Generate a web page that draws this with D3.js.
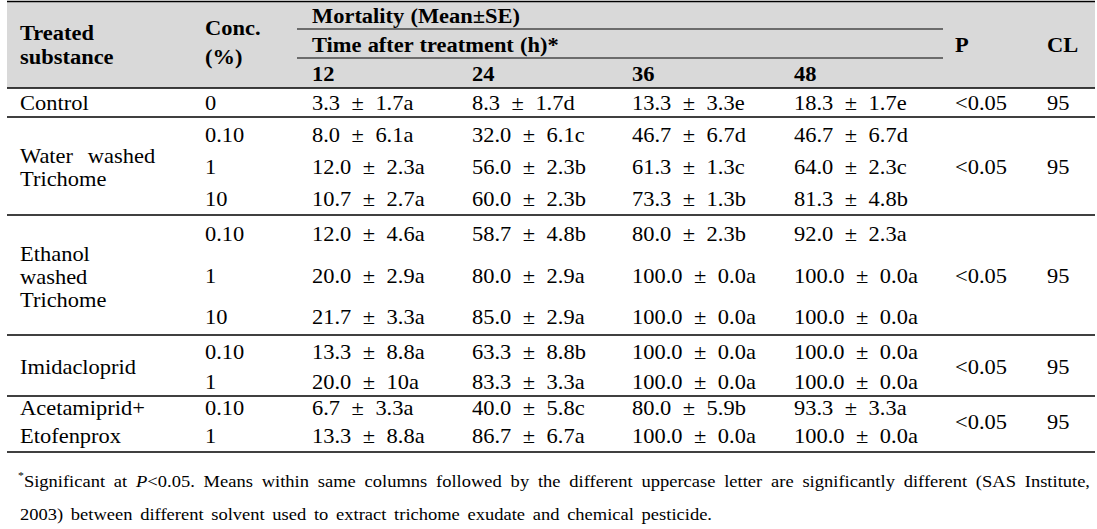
<!DOCTYPE html>
<html>
<head>
<meta charset="utf-8">
<script src="https://cdn.jsdelivr.net/npm/d3@7"></script>
<style>
  html, body { margin: 0; padding: 0; background: #fff; }
  svg { display: block; }
</style>
</head>
<body>
<svg id="chart" width="1097" height="529"></svg>
<script>
// ---------------- data ----------------
const groupLabels = [
  ["Control"],
  ["Water washed", "Trichome"],
  ["Ethanol", "washed", "Trichome"],
  ["Imidacloprid"],
  ["Acetamiprid+", "Etofenprox"]
];
const concentrations = ["0", "0.10", "1", "10", "0.10", "1", "10", "0.10", "1", "0.10", "1"];
const timeLabels = ["12", "24", "36", "48"];

const mean12 = ["3.3", "8.0", "12.0", "10.7", "12.0", "20.0", "21.7", "13.3", "20.0", "6.7", "13.3"];
const se12   = ["1.7", "6.1", "2.3", "2.7", "4.6", "2.9", "3.3", "8.8", "10", "3.3", "8.8"];
const let12  = ["a", "a", "a", "a", "a", "a", "a", "a", "a", "a", "a"];

const mean24 = ["8.3", "32.0", "56.0", "60.0", "58.7", "80.0", "85.0", "63.3", "83.3", "40.0", "86.7"];
const se24   = ["1.7", "6.1", "2.3", "2.3", "4.8", "2.9", "2.9", "8.8", "3.3", "5.8", "6.7"];
const let24  = ["d", "c", "b", "b", "b", "a", "a", "b", "a", "c", "a"];

const mean36 = ["13.3", "46.7", "61.3", "73.3", "80.0", "100.0", "100.0", "100.0", "100.0", "80.0", "100.0"];
const se36   = ["3.3", "6.7", "1.3", "1.3", "2.3", "0.0", "0.0", "0.0", "0.0", "5.9", "0.0"];
const let36  = ["e", "d", "c", "b", "b", "a", "a", "a", "a", "b", "a"];

const mean48 = ["18.3", "46.7", "64.0", "81.3", "92.0", "100.0", "100.0", "100.0", "100.0", "93.3", "100.0"];
const se48   = ["1.7", "6.7", "2.3", "4.8", "2.3", "0.0", "0.0", "0.0", "0.0", "3.3", "0.0"];
const let48  = ["e", "d", "c", "b", "a", "a", "a", "a", "a", "a", "a"];

const pValues = ["<0.05", "<0.05", "<0.05", "<0.05", "<0.05"];
const clValues = ["95", "95", "95", "95", "95"];

const footnote1 = ["Significant at ", "P", "<0.05. Means within same columns followed by the different uppercase letter are significantly different (SAS Institute,"];
const footnote2 = "2003) between different solvent used to extract trichome exudate and chemical pesticide.";

// ---------------- layout ----------------
const svg = d3.select("#chart");
const FONT = "'Liberation Serif', Tinos, 'Times New Roman', serif";
const FS = 21, SX = 1.07;
const colKeys = ["sub", "conc", "t12", "t24", "t36", "t48", "p", "cl"];
const x = d3.scaleOrdinal().domain(colKeys).range([20, 205, 312, 472, 632, 794, 955, 1047]);
const y = d3.scaleOrdinal().domain(d3.range(11)).range([103, 135, 167, 199, 234, 276, 317, 352, 382, 408, 436]);
const groupLabelY = [[103], [156, 179], [254, 277, 300], [367], [408, 436]];
const groupMidY = [103, 167, 276, 367, 422];
const ruleY = [88, 117, 215, 335, 396, 452];
const tableX0 = 7, tableX1 = 1095;

// header background
svg.append("rect").attr("x", tableX0).attr("y", 1).attr("width", tableX1 - tableX0).attr("height", 87).attr("fill", "#d9d9d9");

// rules
svg.append("line").attr("x1", tableX0).attr("x2", tableX1).attr("y1", 1.5).attr("y2", 1.5).attr("stroke", "#000").attr("stroke-width", 1.5);
svg.selectAll("line.rule").data(ruleY).join("line").attr("class", "rule")
  .attr("x1", tableX0).attr("x2", tableX1).attr("y1", d => d).attr("y2", d => d)
  .attr("stroke", "#000").attr("stroke-width", 1.5);
svg.selectAll("line.sub").data([29, 58]).join("line").attr("class", "sub")
  .attr("x1", 297).attr("x2", 943).attr("y1", d => d).attr("y2", d => d)
  .attr("stroke", "#000").attr("stroke-width", 1.2);

function txt(px, py, s, opts = {}) {
  const t = svg.append("text")
    .attr("transform", `translate(${px},${py}) scale(${opts.sx || SX},1)`)
    .attr("dy", "0.35em")
    .attr("font-family", FONT)
    .attr("fill", "#000")
    .style("font-size", (opts.fs || FS) + "px")
    .style("font-weight", opts.bold ? "bold" : null)
    .style("word-spacing", opts.ws ? opts.ws + "px" : null)
    .text(s);
  return t;
}

// header texts
txt(x("sub"), 33, "Treated", { bold: true });
txt(x("sub"), 57, "substance", { bold: true });
txt(x("conc"), 28, "Conc.", { bold: true });
txt(x("conc"), 57, "(%)", { bold: true });
txt(x("t12"), 16, "Mortality (Mean±SE)", { bold: true, ws: 0.5 });
txt(x("t12"), 45, "Time after treatment (h)*", { bold: true, ws: 0.5 });
["t12", "t24", "t36", "t48"].forEach((k, i) => txt(x(k), 74, timeLabels[i], { bold: true }));
txt(x("p"), 45, "P", { bold: true });
txt(x("cl"), 45, "CL", { bold: true });

// body
groupLabels.forEach((lines, g) => lines.forEach((l, j) => txt(x("sub"), groupLabelY[g][j], l, { ws: 8.5 })));
concentrations.forEach((c, i) => txt(x("conc"), y(i), c));
const series = [["t12", mean12, se12, let12], ["t24", mean24, se24, let24], ["t36", mean36, se36, let36], ["t48", mean48, se48, let48]];
series.forEach(([k, m, s, l]) => {
  m.forEach((v, i) => txt(x(k), y(i), `${v} ± ${s[i]}${l[i]}`, { ws: 5.5 }));
});
pValues.forEach((p, g) => txt(x("p"), groupMidY[g], p));
clValues.forEach((c, g) => txt(x("cl"), groupMidY[g], c));

// footnote (justified by word spacing)
const fFS = 17.3;
function justify(node, text, x0, x1) {
  const nSp = (text.match(/ /g) || []).length;
  const natural = node.node().getComputedTextLength() * SX;
  const w = (x1 - x0 - natural) / nSp / SX;
  node.style("word-spacing", w + "px");
}
const f1 = svg.append("text").attr("transform", `translate(18,484) scale(${SX},1)`).attr("dy", "0.35em")
  .attr("font-family", FONT).attr("fill", "#000").style("font-size", fFS + "px");
f1.append("tspan").attr("dy", "-0.45em").style("font-size", "11px").text("*");
f1.append("tspan").attr("dy", "0.45em").text(footnote1[0]);
f1.append("tspan").style("font-style", "italic").text(footnote1[1]);
f1.append("tspan").text(footnote1[2]);
justify(f1, footnote1.join(""), 18, 1090);
const f2 = txt(20, 514, footnote2, { fs: fFS });
justify(f2, footnote2, 20, 712);
</script>
</body>
</html>
